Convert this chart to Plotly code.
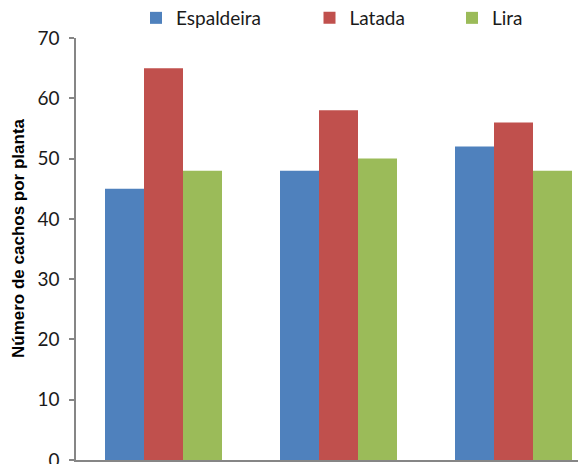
import plotly.graph_objects as go

# Número de cachos por planta para cada sistema de condução
ensaios = [0, 1, 2]
sistemas = ["Espaldeira", "Latada", "Lira"]
espaldeira = [45, 48, 52]
latada = [65, 58, 56]
lira = [48, 50, 48]
cores = ["#4F81BD", "#C0504D", "#9BBB59"]
y_ticks = [0, 10, 20, 30, 40, 50, 60, 70]

W, H = 578, 464
L, T, B, R = 76, 38, 4, 0
plot_w = W - L - R
plot_h = H - T - B
cat_px = 175  # pixel width of one category band

def px_x(p):
    return (p - L) / plot_w

def px_y(p):
    return (H - B - p) / plot_h

fig = go.Figure()
legend_ids = ["legend", "legend2", "legend3"]
for nome, vals, cor, lg in zip(sistemas, [espaldeira, latada, lira], cores, legend_ids):
    fig.add_trace(go.Bar(x=ensaios, y=vals, name=nome, marker=dict(color=cor, line=dict(width=0)),
                         legend=lg))

tick_font = dict(family="Lato, Noto Sans, sans-serif", size=19, color="#1a1a1a")
leg_font = dict(family="Lato, Noto Sans, sans-serif", size=19, color="#1a1a1a")

legend_centers = [156, 329.5, 472]
layout_legends = {}
for lg, cx in zip(legend_ids, legend_centers):
    layout_legends[lg] = dict(
        x=px_x(cx - 20), xanchor="left",
        y=px_y(18), yanchor="middle",
        orientation="h", font=leg_font, bgcolor="rgba(0,0,0,0)",
        borderwidth=0, itemwidth=30, tracegroupgap=0,
    )

fig.update_layout(
    width=W, height=H,
    margin=dict(l=L, r=R, t=T, b=B, pad=0, autoexpand=False),
    paper_bgcolor="white", plot_bgcolor="white",
    barmode="group", bargap=58 / 175, bargroupgap=0,
    showlegend=True,
    xaxis=dict(range=[-0.5, -0.5 + plot_w / cat_px], showticklabels=False, ticks="",
               showgrid=False, zeroline=False, showline=True, linecolor="#868686", linewidth=1.5,
               tickvals=ensaios, automargin=False),
    yaxis=dict(range=[0, 70], tickvals=y_ticks, ticks="outside", ticklen=5, tickcolor="#868686",
               tickwidth=1.5, showgrid=False, zeroline=False, showline=True, linecolor="#868686",
               linewidth=1.5, tickfont=tick_font, ticklabelstandoff=6, ticklabeloverflow="allow",
               automargin=False),
    annotations=[dict(text="<b>Número de cachos por planta</b>", textangle=-90,
                      x=px_x(18), y=px_y(238), xref="paper", yref="paper",
                      xanchor="center", yanchor="middle", showarrow=False,
                      font=dict(family="Liberation Sans, Arial, sans-serif", size=17, color="#000"))],
    **layout_legends,
)

fig.write_html("out.html")
